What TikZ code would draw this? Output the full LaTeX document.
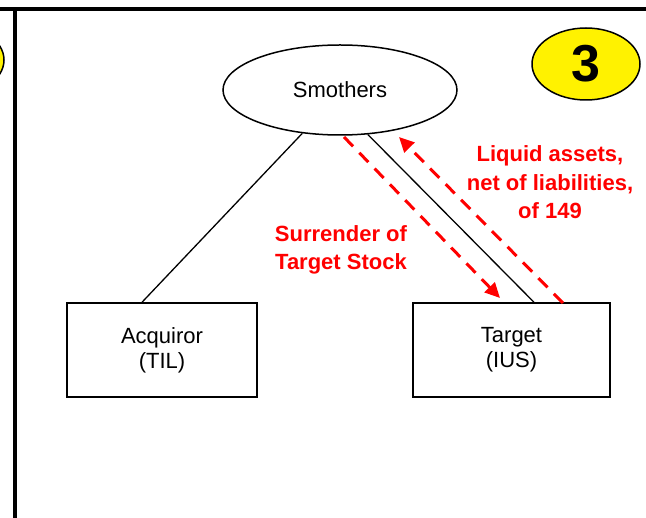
\documentclass[tikz,border=0pt]{standalone}
\usepackage{fontspec}
\setmainfont{Liberation Sans}
\usetikzlibrary{shapes.geometric,arrows.meta,calc}
\begin{document}
\begin{tikzpicture}[x=1pt,y=-1pt,
  boxnode/.style={draw,line width=1.5pt,minimum height=94pt,inner sep=0pt,align=center,font=\fontsize{22}{25}\selectfont},
  ovalnode/.style={draw,ellipse,line width=1.5pt,inner sep=0pt,font=\fontsize{22}{25}\selectfont},
  badge/.style={draw,ellipse,fill=yellow,line width=1.5pt,minimum width=108pt,minimum height=72pt,inner sep=0pt,font=\fontsize{52}{60}\selectfont\bfseries},
  conn/.style={line width=1.3pt},
  redarrow/.style={red,line width=3pt,dash pattern=on 13pt off 9pt,-{Triangle[length=15pt,width=14pt]}},
  redlabel/.style={text=red,inner sep=0pt,align=center,font=\fontsize{22}{28.5}\selectfont\bfseries},
  frameline/.style={line width=3.5pt}
]
\useasboundingbox (0,0) rectangle (646,518);
% frame
\draw[frameline] (0,9) -- (646,9);
\draw[frameline] (15,9) -- (15,518);
% badges
\node[badge] (prevbadge) at (-50,60) {};
\node[badge] (badge) at (586,64) {3};
% nodes
\node[ovalnode,minimum width=234pt,minimum height=90pt] (smothers) at (340,90) {Smothers};
\node[boxnode,minimum width=190pt] (acq) at (162,350) {Acquiror\\(TIL)};
\node[boxnode,minimum width=197pt] (tgt) at (511.5,350) {Target\\(IUS)};
% connectors
\draw[conn] (smothers.229.3) -- ($(acq.north)+(-20,0)$);
\draw[conn] (smothers.302.5) -- ($(tgt.north)+(22.5,0)$);
% red arrows
\coordinate (s1) at (344,137);
\coordinate (e1) at (500,298);
\coordinate (s2) at (563,303);
\coordinate (e2) at (399,137);
\draw[redarrow] (s1) -- (e1);
\draw[redarrow] (s2) -- (e2);
% labels
\node[redlabel] (lab1) at (341,250) {Surrender of\\Target Stock};
\node[redlabel] (lab2) at (550,182.5) {Liquid assets,\\net of liabilities,\\of 149};
\end{tikzpicture}
\end{document}
